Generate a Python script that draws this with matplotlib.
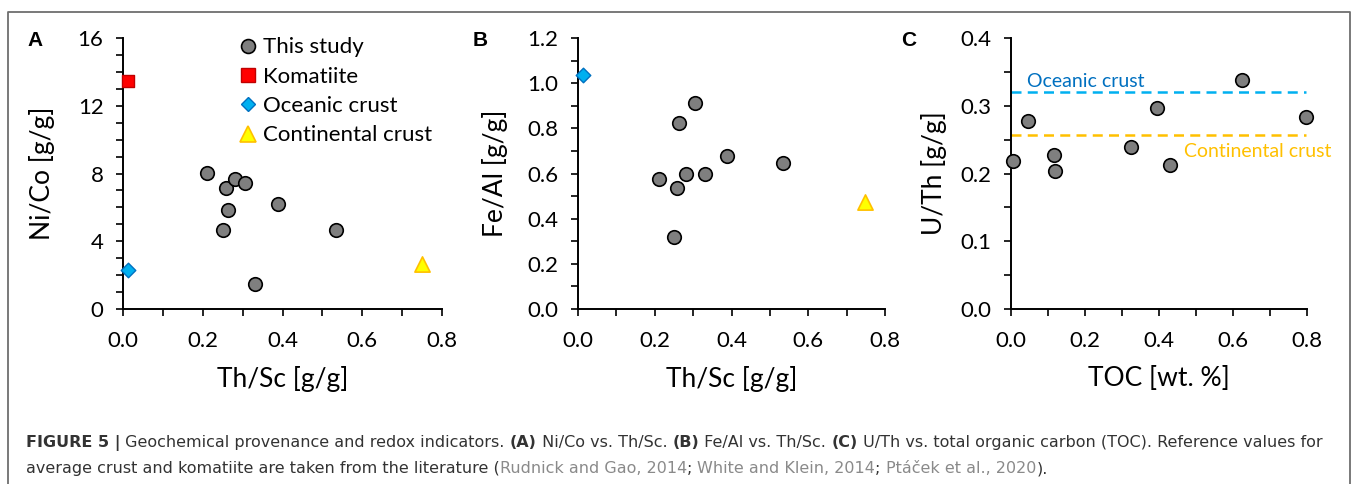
import numpy as np
import matplotlib
matplotlib.use("Agg")
import matplotlib.pyplot as plt
from matplotlib.lines import Line2D

# data
th_sc = [0.210, 0.250, 0.259, 0.263, 0.281, 0.306, 0.331, 0.388, 0.533]
ni_co = [8.01, 4.67, 7.13, 5.85, 7.68, 7.46, 1.47, 6.18, 4.67]
fe_al = [0.576, 0.320, 0.537, 0.823, 0.596, 0.910, 0.599, 0.677, 0.646]

toc = [0.005, 0.046, 0.117, 0.119, 0.324, 0.395, 0.430, 0.625, 0.798]
u_th = [0.219, 0.278, 0.227, 0.203, 0.239, 0.297, 0.213, 0.338, 0.283]

komatiite_th_sc, komatiite_ni_co = 0.012, 13.49
oceanic_th_sc, oceanic_ni_co, oceanic_fe_al, oceanic_u_th = 0.013, 2.28, 1.034, 0.32
continental_th_sc, continental_ni_co, continental_fe_al, continental_u_th = 0.749, 2.65, 0.476, 0.257

chart_font = "Lato"
caption_font = "DejaVu Sans"

plt.rcParams['font.family'] = [chart_font, 'DejaVu Sans']

W, H = 1357, 484
fig = plt.figure(figsize=(W / 100, H / 100), dpi=100)


def make_axes(left_px, right_px):
    ax = fig.add_axes([left_px / W, (H - 309) / H, (right_px - left_px) / W, (309 - 38) / H])
    for side in ['top', 'right']:
        ax.spines[side].set_visible(False)
    for side in ['left', 'bottom']:
        ax.spines[side].set_linewidth(1.4)
    ax.tick_params(which='both', direction='out', length=5, width=1.2, labelsize=16, pad=9)
    ax.tick_params(axis='x', pad=11)
    return ax


gray_kw = dict(marker='o', s=95, facecolor='#7f7f7f', edgecolor='black', linewidth=1.2, zorder=3)
kom_kw = dict(marker='s', s=85, facecolor='#ff0000', edgecolor='#c00000', linewidth=1.0, zorder=3)
oce_kw = dict(marker='D', s=55, facecolor='#00b0f0', edgecolor='#0070c0', linewidth=1.0, zorder=3)
con_kw = dict(marker='^', s=120, facecolor='#ffff00', edgecolor='#ffc000', linewidth=1.2, zorder=3)

# panel A
axA = make_axes(123, 442)
axA.scatter(th_sc, ni_co, **gray_kw)
axA.scatter([komatiite_th_sc], [komatiite_ni_co], clip_on=False, **kom_kw)
axA.scatter([oceanic_th_sc], [oceanic_ni_co], clip_on=False, **oce_kw)
axA.scatter([continental_th_sc], [continental_ni_co], clip_on=False, **con_kw)
axA.set_xlim(0, 0.8)
axA.set_ylim(0, 16)
axA.set_xticks(np.arange(0, 0.81, 0.2))
axA.set_xticks(np.arange(0, 0.81, 0.1), minor=True)
axA.set_yticks(np.arange(0, 17, 4))
axA.set_yticks(np.arange(0, 17, 1), minor=True)
axA.xaxis.set_major_formatter(matplotlib.ticker.FormatStrFormatter('%.1f'))
axA.set_xlabel('Th/Sc [g/g]', fontsize=19, labelpad=11)
axA.set_ylabel('Ni/Co [g/g]', fontsize=19, labelpad=16)

handles = [
    Line2D([], [], linestyle='none', marker='o', markersize=10, markerfacecolor='#7f7f7f', markeredgecolor='black', markeredgewidth=1.2),
    Line2D([], [], linestyle='none', marker='s', markersize=9.5, markerfacecolor='#ff0000', markeredgecolor='#c00000'),
    Line2D([], [], linestyle='none', marker='D', markersize=7.5, markerfacecolor='#00b0f0', markeredgecolor='#0070c0'),
    Line2D([], [], linestyle='none', marker='^', markersize=11, markerfacecolor='#ffff00', markeredgecolor='#ffc000', markeredgewidth=1.2),
]
labels = ['This study', 'Komatiite', 'Oceanic crust', 'Continental crust']
axA.legend(handles, labels, loc='upper left', bbox_to_anchor=(0.335, 1.035), frameon=False,
           fontsize=16, handlelength=0.8, handletextpad=0.3, labelspacing=0.42, borderaxespad=0)

# panel B
axB = make_axes(578, 885)
axB.scatter(th_sc, fe_al, **gray_kw)
axB.scatter([oceanic_th_sc], [oceanic_fe_al], clip_on=False, **oce_kw)
axB.scatter([continental_th_sc], [continental_fe_al], clip_on=False, **con_kw)
axB.set_xlim(0, 0.8)
axB.set_ylim(0, 1.2)
axB.set_xticks(np.arange(0, 0.81, 0.2))
axB.set_xticks(np.arange(0, 0.81, 0.1), minor=True)
axB.set_yticks(np.arange(0, 1.21, 0.2))
axB.set_yticks(np.arange(0, 1.21, 0.1), minor=True)
axB.xaxis.set_major_formatter(matplotlib.ticker.FormatStrFormatter('%.1f'))
axB.yaxis.set_major_formatter(matplotlib.ticker.FormatStrFormatter('%.1f'))
axB.set_xlabel('Th/Sc [g/g]', fontsize=19, labelpad=11)
axB.set_ylabel('Fe/Al [g/g]', fontsize=19, labelpad=14)

# panel C
axC = make_axes(1011, 1307)
axC.axhline(oceanic_u_th, xmin=0, xmax=0.995, color='#00b0f0', linestyle=(0, (4, 2.5)), linewidth=1.8, zorder=2)
axC.axhline(continental_u_th, xmin=0, xmax=0.995, color='#ffc000', linestyle=(0, (4, 2.5)), linewidth=1.8, zorder=2)
axC.scatter(toc, u_th, clip_on=False, **gray_kw)
axC.text(0.203, 0.336, 'Oceanic crust', color='#0070c0', fontsize=14, ha='center', va='center')
axC.text(0.668, 0.232, 'Continental crust', color='#ffc000', fontsize=14, ha='center', va='center', clip_on=False)
axC.set_xlim(0, 0.8)
axC.set_ylim(0, 0.4)
axC.set_xticks(np.arange(0, 0.81, 0.2))
axC.set_xticks(np.arange(0, 0.81, 0.1), minor=True)
axC.set_yticks(np.arange(0, 0.41, 0.1))
axC.set_yticks(np.arange(0, 0.41, 0.05), minor=True)
axC.xaxis.set_major_formatter(matplotlib.ticker.FormatStrFormatter('%.1f'))
axC.yaxis.set_major_formatter(matplotlib.ticker.FormatStrFormatter('%.1f'))
axC.set_xlabel('TOC [wt. %]', fontsize=19, labelpad=11)
axC.set_ylabel('U/Th [g/g]', fontsize=19, labelpad=10)

# panel letters
for letter, xpx in [('A', 35), ('B', 480), ('C', 909)]:
    fig.text(xpx / W, 1 - 40 / H, letter, fontsize=15, fontweight='bold', family='Liberation Sans',
             ha='center', va='center')

# frame around the chart part
fig.add_artist(Line2D([8 / W, 8 / W, 1350 / W, 1350 / W], [0, 1 - 12 / H, 1 - 12 / H, 0],
                      color='#6e6e6e', linewidth=1.3, transform=fig.transFigure))

# caption, built from runs of text
text_col = '#333333'
link_col = '#8a8a8a'
line1 = [('FIGURE 5 |', 'bold', text_col),
         (' Geochemical provenance and redox indicators. ', 'normal', text_col),
         ('(A)', 'bold', text_col), (' Ni/Co vs. Th/Sc. ', 'normal', text_col),
         ('(B)', 'bold', text_col), (' Fe/Al vs. Th/Sc. ', 'normal', text_col),
         ('(C)', 'bold', text_col),
         (' U/Th vs. total organic carbon (TOC). Reference values for', 'normal', text_col)]
line2 = [('average crust and komatiite are taken from the literature (', 'normal', text_col),
         ('Rudnick and Gao, 2014', 'normal', link_col), ('; ', 'normal', text_col),
         ('White and Klein, 2014', 'normal', link_col), ('; ', 'normal', text_col),
         ('Ptáček et al., 2020', 'normal', link_col), (').', 'normal', text_col)]

renderer = fig.canvas.get_renderer()


def run_width(runs, size):
    total = 0
    for s, weight, col in runs:
        t = fig.text(0, 0, s, fontsize=size, fontweight=weight, family=caption_font)
        total += t.get_window_extent(renderer=renderer).width
        t.remove()
    return total


cap_size = 10 * (1323 - 26) / run_width(line1, 10)

for runs, base_y in [(line1, 447), (line2, 473)]:
    x = 26
    for s, weight, col in runs:
        t = fig.text(x / W, 1 - base_y / H, s, fontsize=cap_size, fontweight=weight, color=col,
                     family=caption_font, ha='left', va='baseline')
        x += t.get_window_extent(renderer=renderer).width

fig.savefig('out.png', dpi=100)
